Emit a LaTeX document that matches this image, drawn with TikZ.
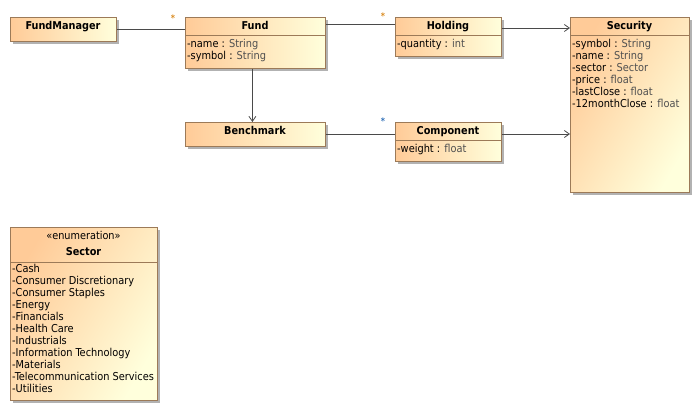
\documentclass[tikz,border=0pt]{standalone}
\usepackage{fontspec}
\setmainfont{DejaVu Sans Condensed}
\usetikzlibrary{arrows.meta,shadows}
\definecolor{umlorange}{HTML}{FFCB98}
\definecolor{umlyellow}{HTML}{FFFFDC}
\definecolor{umlborder}{HTML}{9C7A58}
\definecolor{umlline}{HTML}{4A4A4A}
\definecolor{umltype}{HTML}{505050}
\definecolor{starorange}{HTML}{D98A1E}
\definecolor{starblue}{HTML}{2F6FB8}
\newcommand{\tp}[1]{\textcolor{umltype}{#1}}
\tikzset{
  classbox/.style={draw=umlborder,line width=0.8pt,left color=umlorange,right color=umlyellow,
    anchor=north west,inner sep=0pt,
    drop shadow={shadow xshift=3pt,shadow yshift=-3pt,fill=black!30,opacity=1}},
  divider/.style={draw=umlborder,line width=0.8pt},
  classname/.style={anchor=base,inner sep=0pt,font=\fontsize{10.8}{12}\selectfont\bfseries},
  attr/.style={anchor=base west,inner sep=0pt,font=\fontsize{10.9}{12}\selectfont},
  assoc/.style={draw=umlline,line width=0.8pt},
  nav/.style={assoc,-{Straight Barb[length=5pt,width=7pt]}},
  mult/.style={anchor=base,inner sep=0pt,font=\fontsize{9}{10}\selectfont\bfseries}
}
\begin{document}
\begin{tikzpicture}[x=1pt,y=-1pt]
\useasboundingbox (0,0) rectangle (699,411);
% boxes
\node[classbox,minimum width=106pt,minimum height=24pt] (fundmanager) at (10,17) {};
\node[classbox,minimum width=140pt,minimum height=51pt] (fund) at (185,17) {};
\node[classbox,minimum width=106pt,minimum height=39pt] (holding) at (395,17) {};
\node[classbox,minimum width=119pt,minimum height=175pt,shading angle=60] (security) at (570,17) {};
\node[classbox,minimum width=140pt,minimum height=24pt] (benchmark) at (185,122) {};
\node[classbox,minimum width=106pt,minimum height=39pt] (component) at (395,122) {};
\node[classbox,minimum width=147pt,minimum height=173pt,shading angle=60] (sector) at (10,227) {};
% compartments
\draw[divider] (185,35) -- (325,35);
\draw[divider] (395,35) -- (501,35);
\draw[divider] (570,35) -- (689,35);
\draw[divider] (395,140) -- (501,140);
\draw[divider] (10,262) -- (157,262);
% names
\node[classname] (fundmanagername) at (63,30) {FundManager};
\node[classname] (fundname) at (255,30) {Fund};
\node[classname] (holdingname) at (448,30) {Holding};
\node[classname] (securityname) at (629.5,30) {Security};
\node[classname] (benchmarkname) at (255,135) {Benchmark};
\node[classname] (componentname) at (448,135) {Component};
\node[anchor=base,inner sep=0pt,font=\fontsize{10.8}{12}\selectfont] (sectorstereo) at (83.5,240) {«enumeration»};
\node[classname] (sectorname) at (83.5,256) {Sector};
% attributes
\node[attr] (fundattra) at (187,48) {-name : \tp{String}};
\node[attr] (fundattrb) at (187,60) {-symbol : \tp{String}};
\node[attr] (holdingattr) at (397,48) {-quantity : \tp{int}};
\node[attr] (componentattr) at (397,153) {-weight : \tp{float}};
\foreach \a/\t [count=\i] in {symbol/String,name/String,sector/Sector,price/float,lastClose/float,12monthClose/float}
  \node[attr] (securityattr\i) at (572,36+12*\i) {-\a{} : \tp{\t}};
\foreach \s [count=\i] in {Cash,Consumer Discretionary,Consumer Staples,Energy,Financials,Health Care,Industrials,Information Technology,Materials,Telecommunication Services,Utilities}
  \node[attr] (sectorvalue\i) at (12,261+12*\i) {-\s};
% associations
\draw[assoc] (fundmanager.east) -- (fundmanager.east -| fund.west);
\draw[assoc] ([yshift=-7pt]fund.north east) -- ([yshift=-7pt]holding.north west);
\draw[nav] ([yshift=-11pt]holding.north east) -- ([yshift=-11pt]holding.north east -| security.west);
\draw[nav] ([xshift=-3pt]fund.south) -- ([xshift=-3pt]benchmark.north);
\draw[assoc] (benchmark.east) -- (benchmark.east -| component.west);
\draw[nav] ([yshift=-12pt]component.north east) -- ([yshift=-12pt]component.north east -| security.west);
% multiplicities
\node[mult,text=starorange] (fundmult) at (173,22) {*};
\node[mult,text=starorange] (holdingmult) at (383,20) {*};
\node[mult,text=starblue] (componentmult) at (383,125) {*};
\end{tikzpicture}
\end{document}
